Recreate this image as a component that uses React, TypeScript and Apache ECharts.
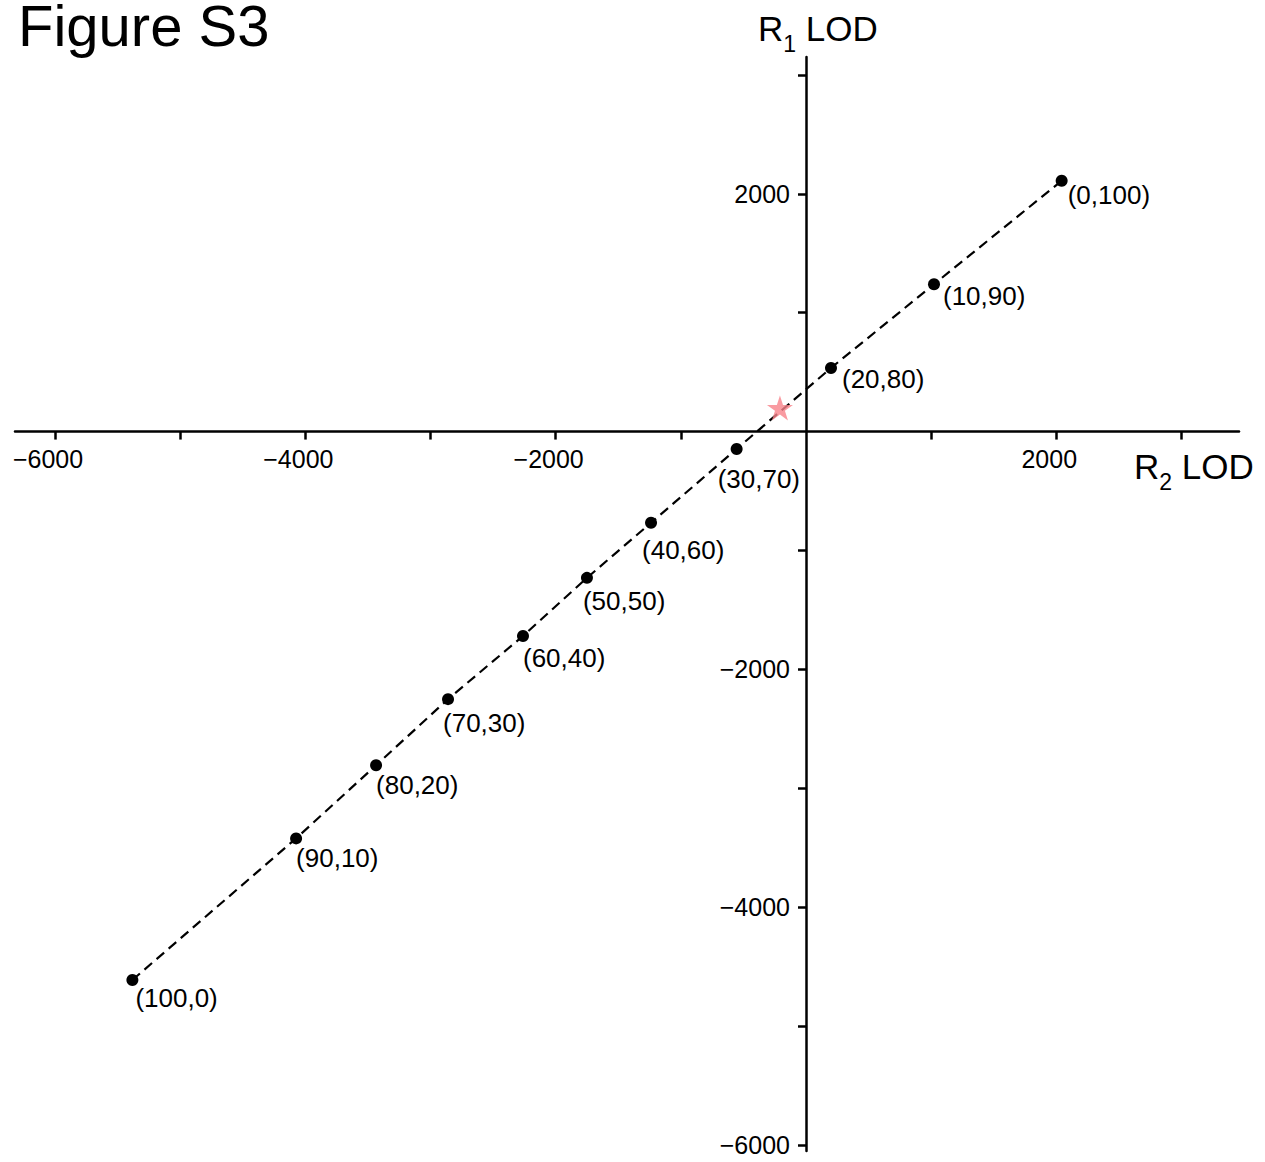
import React, { useEffect, useRef } from "react";
import * as echarts from "echarts";

// ---- data ----
const conditions = ["(0,100)", "(10,90)", "(20,80)", "(30,70)", "(40,60)", "(50,50)", "(60,40)", "(70,30)", "(80,20)", "(90,10)", "(100,0)"];
const r2Lod = [2043, 1023, 200, -554, -1238, -1750, -2261, -2860, -3435, -4074, -5382];
const r1Lod = [2109, 1239, 535, -146, -767, -1230, -1719, -2250, -2806, -3421, -4612];
const starR2 = [-208];
const starR1 = [199];

const xTicks = [-6000, -5000, -4000, -3000, -2000, -1000, 1000, 2000, 3000];
const xLabels = [-6000, -4000, -2000, 2000];
const yTicks = [-6000, -5000, -4000, -3000, -2000, -1000, 1000, 2000, 3000];
const yLabels = [-6000, -4000, -2000, 2000];

// ---- layout (not data) ----
const X_MIN = -6320;
const X_MAX = 3460;
const Y_MIN = -6050;
const Y_MAX = 3150;
const W = 1265;
const H = 1162;
const GRID = { left: 15, right: 26, top: 57, bottom: 11 };
const GRID_W = W - GRID.left - GRID.right;
const GRID_H = H - GRID.top - GRID.bottom;
// move each axis onto the other's zero through the axis scale
const Y_AXIS_OFFSET = -((0 - X_MIN) / (X_MAX - X_MIN)) * GRID_W;
const X_AXIS_OFFSET = -((0 - Y_MIN) / (Y_MAX - Y_MIN)) * GRID_H;

const LABEL_NUDGE: number[][] = [
  [6, 14], [9, 12], [11, 11], [-19, 30], [-9, 27], [-4, 23], [0, 22], [-5, 24], [0, 20], [0, 20], [3, 18],
];

const FONT = '"Liberation Sans", Arial, Helvetica, sans-serif';
const STAR = "path://M50,0 L61.2,34.5 L97.6,34.5 L68.2,55.9 L79.4,90.5 L50,69.1 L20.6,90.5 L31.8,55.9 L2.4,34.5 L38.8,34.5 Z";

const fmt = (v: number) => (v < 0 ? "\u2212" + Math.abs(v) : String(v));

export default function App() {
  const ref = useRef<HTMLDivElement>(null);
  useEffect(() => {
    if (!ref.current) return;
    const chart = echarts.init(ref.current, null, { renderer: "svg" });
    const axisLineStyle = { color: "#000", width: 2.5 };
    const nameRich = {
      m: { fontSize: 35, fontFamily: FONT, fill: "#000", lineHeight: 38, verticalAlign: "top" },
      s: { fontSize: 23, fontFamily: FONT, fill: "#000", lineHeight: 23, padding: [21, 0, 0, 0], verticalAlign: "top" },
    };
    chart.setOption({
      animation: false,
      backgroundColor: "#fff",
      textStyle: { fontFamily: FONT },
      grid: { ...GRID, containLabel: false, outerBoundsMode: "none" },
      xAxis: {
        type: "value",
        position: "bottom",
        offset: X_AXIS_OFFSET,
        min: X_MIN,
        max: X_MAX,
        axisLine: { show: true, onZero: false, lineStyle: axisLineStyle },
        axisTick: { show: true, customValues: xTicks, length: 8, lineStyle: axisLineStyle },
        axisLabel: {
          customValues: xLabels,
          color: "#000",
          fontSize: 25,
          fontFamily: FONT,
          margin: 15,
          padding: [0, 14, 0, 0],
          formatter: (v: number) => fmt(v),
        },
        splitLine: { show: false },
      },
      yAxis: {
        type: "value",
        position: "left",
        offset: Y_AXIS_OFFSET,
        min: Y_MIN,
        max: Y_MAX,
        axisLine: { show: true, onZero: false, lineStyle: axisLineStyle },
        axisTick: { show: true, customValues: yTicks, length: 8, lineStyle: axisLineStyle },
        axisLabel: {
          customValues: yLabels,
          color: "#000",
          fontSize: 25,
          fontFamily: FONT,
          margin: 16,
          formatter: (v: number) => fmt(v),
        },
        splitLine: { show: false },
      },
      series: [
        {
          type: "line",
          silent: true,
          data: r2Lod.map((x, i) => ({
            value: [x, r1Lod[i]],
            name: conditions[i],
            label: { offset: LABEL_NUDGE[i] },
          })),
          symbol: "circle",
          symbolSize: 12,
          showSymbol: true,
          itemStyle: { color: "#000" },
          lineStyle: { color: "#000", width: 2.2, type: [10, 6] },
          label: {
            show: true,
            position: "inside",
            align: "left",
            verticalAlign: "middle",
            color: "#000",
            fontSize: 26,
            fontFamily: FONT,
            formatter: (p: any) => p.name,
          },
          z: 3,
        },
        {
          type: "scatter",
          silent: true,
          data: starR2.map((x, i) => [x, starR1[i]]),
          symbol: STAR,
          symbolSize: [26, 25],
          itemStyle: { color: "#f7828a" },
          z: 4,
        },
      ],
      graphic: [
        {
          type: "text",
          x: 18,
          y: 2,
          style: { text: "Figure S3", fontSize: 58, lineHeight: 46, fontFamily: FONT, fill: "#000", verticalAlign: "top", align: "left" },
        },
        {
          type: "text",
          x: 758,
          y: 11,
          style: { text: "{m|R}{s|1}{m| LOD}", verticalAlign: "top", align: "left", rich: nameRich },
        },
        {
          type: "text",
          x: 1134,
          y: 449,
          style: { text: "{m|R}{s|2}{m| LOD}", verticalAlign: "top", align: "left", rich: nameRich },
        },
      ],
    });
    return () => chart.dispose();
  }, []);
  return <div ref={ref} style={{ position: "absolute", left: 0, top: 0, width: W, height: H }} />;
}
